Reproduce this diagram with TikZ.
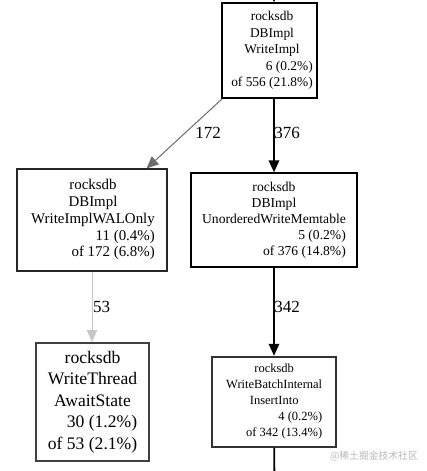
\documentclass[tikz,border=0pt]{standalone}
\usepackage{fontspec}
\newfontfamily\dotfont{Liberation Serif}
\newfontfamily\cjkfont{Noto Sans CJK SC}
\usetikzlibrary{arrows.meta,calc}
\tikzset{
  fbox/.style={draw, rectangle, inner sep=0pt},
  tipped/.style={-{Triangle[length=12pt,width=10.5pt]}},
  elabel/.style={font=\dotfont\fontsize{17}{20}\selectfont, inner sep=0pt},
  heavy/.style={line width=1.8pt, black, tipped},
  medium/.style={line width=1pt, gray!85!black, tipped},
  faint/.style={line width=0.8pt, black!22, tipped},
}
\begin{document}
\begin{tikzpicture}[x=1pt,y=-1pt]
\useasboundingbox[fill=white] (0,0) rectangle (427,471);

\node[fbox, line width=1.5pt, minimum width=95pt, minimum height=95pt,
  font=\dotfont\fontsize{13.4}{16.4}\selectfont] (top) at (269.5,50.5)
  {\hspace{5pt}\begin{tabular}{@{}c@{}}rocksdb\\DBImpl\\WriteImpl\\\hfill 6 (0.2\%)\\\hfill of 556 (21.8\%)\end{tabular}};

\node[fbox, line width=1.1pt, draw=black!85, minimum width=150pt, minimum height=102pt,
  font=\dotfont\fontsize{14.9}{16.7}\selectfont] (wal) at (92,220)
  {\hspace{2pt}\begin{tabular}{@{}c@{}}rocksdb\\DBImpl\\WriteImplWALOnly\\\hfill 11 (0.4\%)\\\hfill of 172 (6.8\%)\end{tabular}};

\node[fbox, line width=1.4pt, minimum width=166pt, minimum height=94pt,
  font=\dotfont\fontsize{13.6}{16}\selectfont] (mem) at (274,220)
  {\begin{tabular}{@{}c@{}}rocksdb\\DBImpl\\UnorderedWriteMemtable\\\hfill 5 (0.2\%)\\\hfill of 376 (14.8\%)\end{tabular}};

\node[fbox, line width=1.9pt, draw=black!75, minimum width=113pt, minimum height=118pt,
  font=\dotfont\fontsize{17.6}{21.5}\selectfont] (await) at (92.5,402)
  {\begin{tabular}{@{}c@{}}rocksdb\\WriteThread\\AwaitState\\\hfill 30 (1.2\%)\\\hfill of 53 (2.1\%)\end{tabular}};

\node[fbox, line width=1.9pt, draw=black!80, minimum width=124pt, minimum height=90pt,
  font=\dotfont\fontsize{12.5}{16}\selectfont] (ins) at (274.2,401.7)
  {\begin{tabular}{@{}c@{}}rocksdb\\WriteBatchInternal\\InsertInto\\\hfill 4 (0.2\%)\\\hfill of 342 (13.4\%)\end{tabular}};

\coordinate (src) at (274,-30);
\coordinate (sink) at (274.5,490);

\draw[heavy] (src) -- (top.north -| src);
\draw[medium] ($(top.south west)+(1,0)$) -- ($(wal.north east)+(-21,0)$);
\draw[heavy] (top.south -| mem.north) -- (mem.north);
\draw[faint] (wal.south) -- (await.north -| wal.south);
\draw[heavy] (mem.south) -- (ins.north -| mem.south);
\draw[line width=1.8pt] (ins.south) -- (sink);

\node[elabel] (l172) at (208,133) {172};
\node[elabel] (l376) at (287,133) {376};
\node[elabel] (l53) at (101.5,307) {53};
\node[elabel] (l342) at (287,307) {342};

\node[font=\cjkfont\fontsize{9.8}{11}\selectfont, text=black!28, inner sep=0pt] (wm) at (374,456) {@稀土掘金技术社区};
\end{tikzpicture}
\end{document}
